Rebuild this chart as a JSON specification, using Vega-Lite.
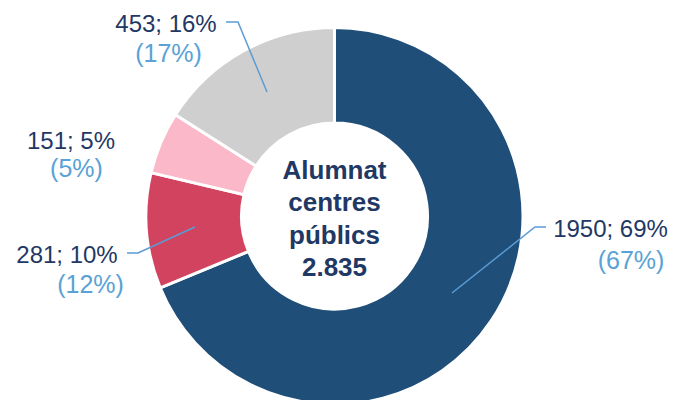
{
  "$schema": "https://vega.github.io/schema/vega-lite/v6.json",
  "width": 669,
  "height": 432,
  "autosize": {"type": "none"},
  "padding": 0,
  "background": "white",
  "config": {"view": {"stroke": null}, "font": "Liberation Sans"},
  "datasets": {
    "slices": [
      {"grup": "1950", "ordre": 1, "alumnes": 1950},
      {"grup": "281", "ordre": 2, "alumnes": 281},
      {"grup": "151", "ordre": 3, "alumnes": 151},
      {"grup": "453", "ordre": 4, "alumnes": 453}
    ],
    "labels": [
      {"grup": "1950", "text1": "1950; 69%", "text2": "(67%)", "x1": 276, "y1": -21, "x2": 296.5, "y2": -53},
      {"grup": "281", "text1": "281; 10%", "text2": "(12%)", "x1": -267.5, "y1": -47, "x2": -244, "y2": -77},
      {"grup": "151", "text1": "151; 5%", "text2": "(5%)", "x1": -263.5, "y1": 67, "x2": -258, "y2": 39},
      {"grup": "453", "text1": "453; 16%", "text2": "(17%)", "x1": -168.5, "y1": 184, "x2": -166, "y2": 154}
    ],
    "leaders": [
      {"grup": "1950", "pt": 1, "x": 211.5, "y": -11},
      {"grup": "1950", "pt": 2, "x": 200.5, "y": -11},
      {"grup": "1950", "pt": 3, "x": 117.5, "y": -77},
      {"grup": "281", "pt": 1, "x": -207.5, "y": -37},
      {"grup": "281", "pt": 2, "x": -196.5, "y": -37},
      {"grup": "281", "pt": 3, "x": -139.5, "y": -11},
      {"grup": "453", "pt": 1, "x": -108.5, "y": 194},
      {"grup": "453", "pt": 2, "x": -96.5, "y": 194},
      {"grup": "453", "pt": 3, "x": -67.5, "y": 124}
    ],
    "center": [
      {"t": "Alumnat\ncentres\npúblics\n2.835", "x": 0, "y": 37}
    ]
  },
  "layer": [
    {
      "data": {"name": "slices"},
      "mark": {"type": "arc", "innerRadius": 93, "outerRadius": 188.5, "stroke": "white", "strokeWidth": 3},
      "encoding": {
        "theta": {"field": "alumnes", "type": "quantitative", "stack": true},
        "order": {"field": "ordre", "type": "quantitative"},
        "color": {
          "field": "grup", "type": "nominal",
          "scale": {"domain": ["1950", "281", "151", "453"], "range": ["#1f4e78", "#d1435f", "#fbb8c9", "#d0cfcf"]},
          "legend": null
        }
      }
    },
    {
      "data": {"name": "leaders"},
      "mark": {"type": "line", "color": "#5b9bd5", "strokeWidth": 1.5},
      "encoding": {
        "x": {"field": "x", "type": "quantitative", "scale": {"domain": [-334.5, 334.5], "nice": false, "zero": false}, "axis": null},
        "y": {"field": "y", "type": "quantitative", "scale": {"domain": [-216, 216], "nice": false, "zero": false}, "axis": null},
        "detail": {"field": "grup"},
        "order": {"field": "pt", "type": "quantitative"}
      }
    },
    {
      "data": {"name": "labels"},
      "mark": {"type": "text", "fontSize": 24, "align": "center", "baseline": "alphabetic", "fill": "#1f3864"},
      "encoding": {
        "x": {"field": "x1", "type": "quantitative"},
        "y": {"field": "y1", "type": "quantitative"},
        "text": {"field": "text1"}
      }
    },
    {
      "data": {"name": "labels"},
      "mark": {"type": "text", "fontSize": 25, "align": "center", "baseline": "alphabetic", "fill": "#5aa2d5"},
      "encoding": {
        "x": {"field": "x2", "type": "quantitative"},
        "y": {"field": "y2", "type": "quantitative"},
        "text": {"field": "text2"}
      }
    },
    {
      "data": {"name": "center"},
      "mark": {"type": "text", "fontSize": 26, "fontWeight": "bold", "align": "center", "baseline": "alphabetic", "lineBreak": "\n", "lineHeight": 32.3, "fill": "#1f3864"},
      "encoding": {
        "x": {"field": "x", "type": "quantitative"},
        "y": {"field": "y", "type": "quantitative"},
        "text": {"field": "t"}
      }
    }
  ]
}
